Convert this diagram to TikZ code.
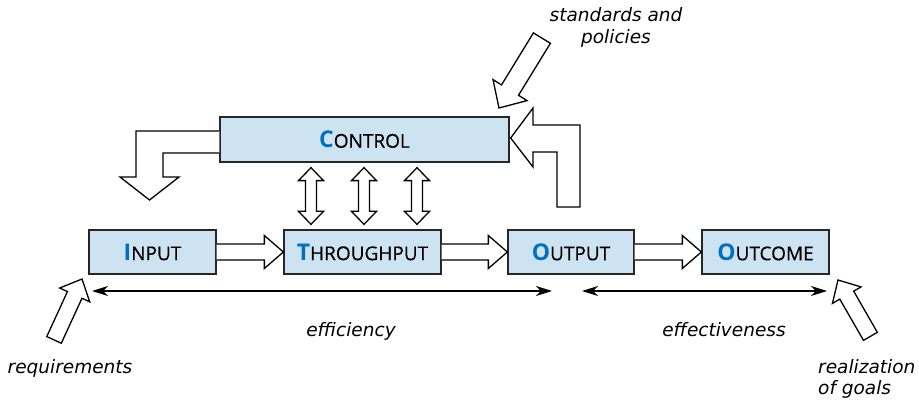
\documentclass[tikz,border=0pt]{standalone}
\usepackage{fontspec}
\setmainfont{Open Sans}
\newfontfamily\boxfont{Open Sans}[FakeBold=0.4]
\newfontfamily\lblfont{DejaVu Sans}
\usetikzlibrary{arrows.meta,calc}
\definecolor{boxfill}{RGB}{205,227,242}
\definecolor{capblue}{RGB}{0,112,192}
\newcommand{\initcap}[2]{{\fontsize{23}{23}\selectfont\bfseries\textcolor{capblue}{#1}}{\boxfont\fontsize{19}{19}\selectfont #2}}
\tikzset{
  procbox/.style={draw=black!85, line width=1.3pt, fill=boxfill, inner sep=0pt, minimum height=44pt},
  blk/.style={draw=black, line width=1.3pt, fill=white, line join=miter},
  dim/.style={line width=1.2pt, {Stealth[length=16pt,width=10pt,inset=5pt]}-{Stealth[length=16pt,width=10pt,inset=5pt]}},
  lbl/.style={font=\lblfont\itshape\fontsize{18.5}{21.5}\selectfont, inner sep=0pt}
}
\begin{document}
\begin{tikzpicture}[x=1pt,y=-1pt]
\useasboundingbox (0,0) rectangle (919,401);
% boxes
\node[procbox, minimum width=289pt, minimum height=45pt] (control) at (364.5,139.5) {\initcap{C}{ONTROL}};
\node[procbox, minimum width=127pt] (input) at (152.5,252) {\initcap{I}{NPUT}};
\node[procbox, minimum width=157pt] (through) at (362.5,252) {\initcap{T}{HROUGHPUT}};
\node[procbox, minimum width=126pt] (output) at (571,252) {\initcap{O}{UTPUT}};
\node[procbox, minimum width=127pt] (outcome) at (765.5,252) {\initcap{O}{UTCOME}};
% horizontal block arrows
\foreach \a/\b in {input/through, through/output, output/outcome}{
  \draw[blk] ($(\a.east)+(0,-8)$) -- ($(\b.west)+(-19,-8)$) -- ($(\b.west)+(-19,-16.5)$) -- (\b.west)
    -- ($(\b.west)+(-19,16.5)$) -- ($(\b.west)+(-19,8)$) -- ($(\a.east)+(0,8)$);
}
% vertical double block arrows
\foreach \dx in {-53.5,-0.5,52.5}{
  \coordinate (top) at ($(control.south)+(\dx,5)$);
  \coordinate (bot) at ($(through.north)+(\dx+2,-5)$);
  \draw[blk] (top) -- ($(top)+(12.5,13)$) -- ($(top)+(5.5,13)$) -- ($(bot)+(5.5,-13)$) -- ($(bot)+(12.5,-13)$)
    -- (bot) -- ($(bot)+(-12.5,-13)$) -- ($(bot)+(-5.5,-13)$) -- ($(top)+(-5.5,13)$) -- ($(top)+(-12.5,13)$) -- cycle;
}
% left bent arrow from control
\draw[blk] ($(control.west)+(0,-8.5)$) -- (136,131) -- (136,177) -- (120,177) -- (149.5,200) -- (179,177) -- (163,177) -- (163,153) -- ($(control.west)+(0,13.5)$);
% right bent arrow into control
\draw[blk] (557,207) -- (557,152) -- (533,152) -- (533,167) -- ($(control.east)+(1,-1.5)$) -- (533,108) -- (533,125) -- (580,125) -- (580,207) -- cycle;
% standards arrow
\draw[blk] (499,108) -- (527.0,100.6) -- (518.5,95.3) -- (550.4,43.3) -- (533.4,32.9) -- (501.5,84.9) -- (493.0,79.6) -- cycle;
% requirements arrow
\draw[blk] (82,279) -- (89.70,301.80) -- (81.97,298.25) -- (61.31,343.25) -- (46.77,336.57) -- (67.43,291.57) -- (59.70,288.02) -- cycle;
% realization arrow
\draw[blk] (838,280) -- (832.43,303.40) -- (839.80,299.16) -- (863.48,340.33) -- (877.34,332.35) -- (853.66,291.18) -- (861.03,286.94) -- cycle;
% dimension lines
\coordinate (effL) at (92,291);
\coordinate (effR) at (552,291);
\coordinate (efvL) at (582,291);
\coordinate (efvR) at (827,291);
\draw[dim] (effL) -- (effR);
\draw[dim] (efvL) -- (efvR);
% labels
\node[lbl, anchor=base] (eff) at (351,336.5) {efficiency};
\node[lbl, anchor=base] (efv) at (724,336.5) {effectiveness};
\node[lbl, anchor=base] (req) at (70,373) {requirements};
\node[lbl, anchor=base west, align=left] (real) at (818,394.5) {realization\\of goals};
\node[lbl, anchor=base, align=center] (std) at (616,43.5) {standards and\\policies};
\end{tikzpicture}
\end{document}
